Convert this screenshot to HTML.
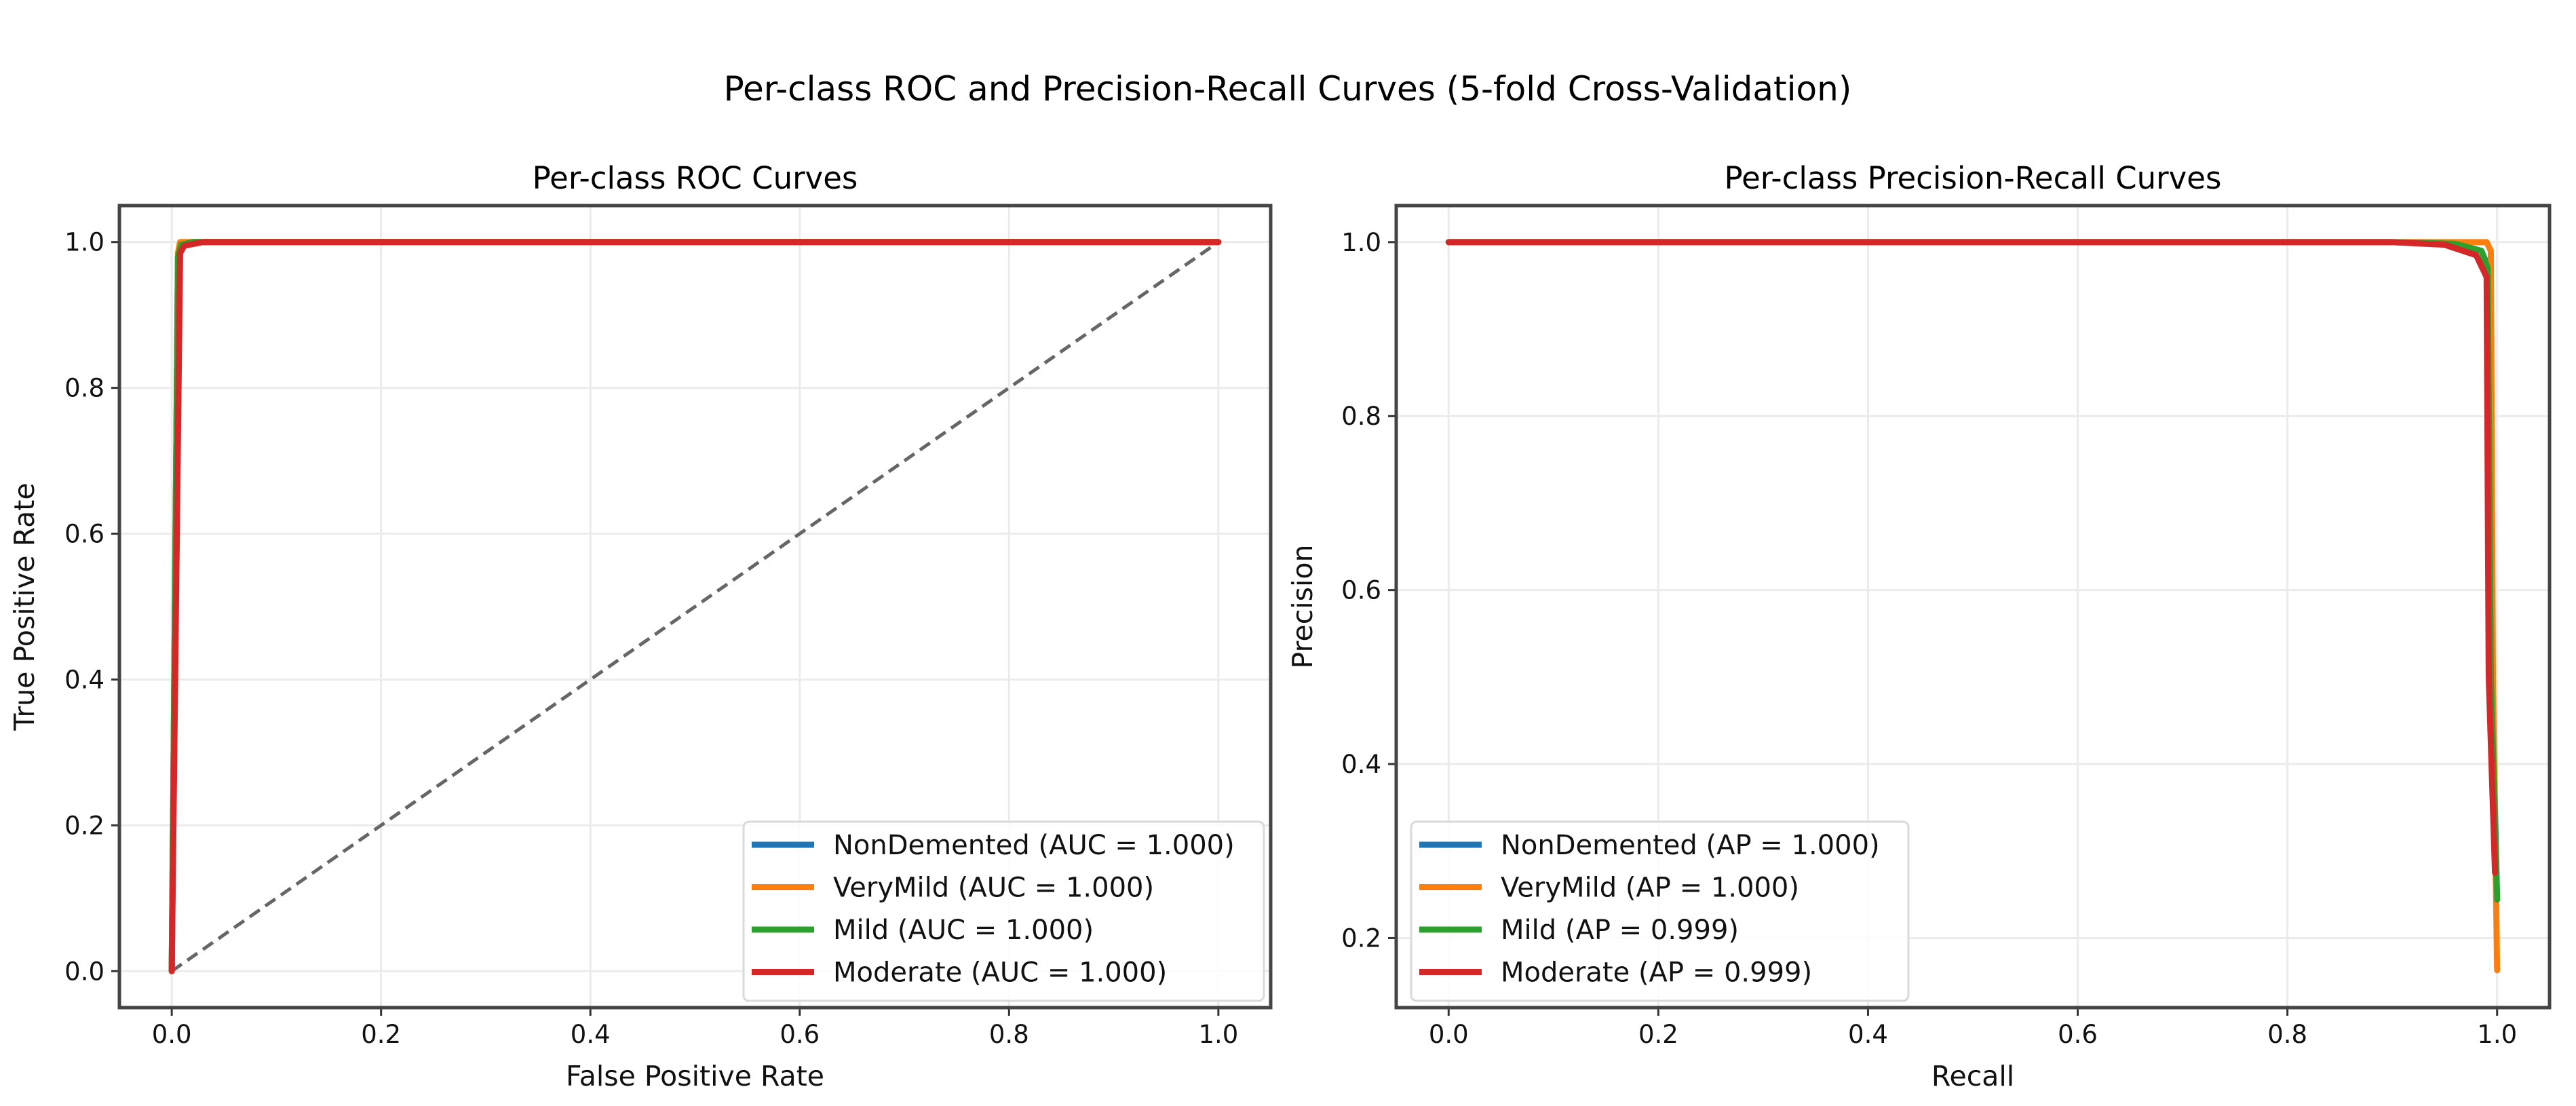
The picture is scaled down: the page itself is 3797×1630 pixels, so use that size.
<!DOCTYPE html>
<html><head><meta charset="utf-8"><style>
html,body{margin:0;padding:0;background:#fff;}
svg{display:block;font-family:"DejaVu Sans","Liberation Sans",sans-serif;}
</style></head><body>
<svg id="fig" width="3797" height="1630" viewBox="0 0 3797 1630" xmlns="http://www.w3.org/2000/svg">
<rect width="3797" height="1630" fill="#fff"/>
<text x="1898" y="148" font-size="50" text-anchor="middle" fill="#000">Per-class ROC and Precision-Recall Curves (5-fold Cross-Validation)</text>
<g id="roc"></g>
<g id="pr"></g>
</svg>
<script>
const classNames = ["NonDemented","VeryMild","Mild","Moderate"];
const colors = ["#1f77b4","#ff7f0e","#2ca02c","#d62728"];
const aucValues = ["1.000","1.000","1.000","1.000"];
const apValues = ["1.000","1.000","0.999","0.999"];
const tickLabels = ["0.0","0.2","0.4","0.6","0.8","1.0"];
const prYTicks = ["0.2","0.4","0.6","0.8","1.0"];
// ROC curves (fpr, tpr)
const rocFpr = [
 [0,0.006,0.009,0.02,1],
 [0,0.006,0.008,0.02,1],
 [0,0.006,0.009,0.02,1],
 [0,0.008,0.012,0.03,1]];
const rocTpr = [
 [0,0.98,0.996,1,1],
 [0,0.985,1,1,1],
 [0,0.98,0.996,1,1],
 [0,0.985,0.995,1,1]];
// PR curves (recall, precision)
const prRecall = [
 [0,0.9,0.96,0.985,0.992,0.995,1.0],
 [0,0.9,0.97,0.99,0.994,0.996,1.0],
 [0,0.9,0.96,0.985,0.991,0.994,1.0],
 [0,0.9,0.95,0.98,0.99,0.992,0.998]];
const prPrecision = [
 [1,1,0.998,0.99,0.97,0.5,0.244],
 [1,1,1,1,0.99,0.5,0.163],
 [1,1,0.998,0.99,0.97,0.5,0.244],
 [1,1,0.997,0.985,0.96,0.5,0.275]];

const NS="http://www.w3.org/2000/svg";
function mk(parent,tag,attrs,text){const e=document.createElementNS(NS,tag);for(const k in attrs)e.setAttribute(k,attrs[k]);if(text!==undefined)e.textContent=text;parent.appendChild(e);return e;}

function panel(g,cfg){
  const L=cfg.left,R=cfg.right,T=303,B=1485;
  const sx=v=>L+(v-cfg.xmin)/(cfg.xmax-cfg.xmin)*(R-L);
  const sy=v=>B-(v-cfg.ymin)/(cfg.ymax-cfg.ymin)*(B-T);
  tickLabels.forEach(t=>{const v=+t;
    const gl=mk(g,'line',{x1:sx(v),x2:sx(v),y1:T,y2:B,stroke:'#ebebeb','stroke-width':3});
    
    
    const tk=mk(g,'line',{x1:sx(v),x2:sx(v),y1:B,y2:B+12,stroke:'#333','stroke-width':3});
    
    
    const tl=mk(g,'text',{x:sx(v),y:B+52,'font-size':37,'text-anchor':'middle',fill:'#111'},t);
    
    
  });
  cfg.yticks.forEach(t=>{const v=+t;
    const gl=mk(g,'line',{x1:L,x2:R,y1:sy(v),y2:sy(v),stroke:'#ebebeb','stroke-width':3});
    
    
    const tk=mk(g,'line',{x1:L-12,x2:L,y1:sy(v),y2:sy(v),stroke:'#333','stroke-width':3});
    
    
    const tl=mk(g,'text',{x:L-22,y:sy(v)+13,'font-size':37,'text-anchor':'end',fill:'#111'},t);
    
    
  });
  if(cfg.diag){
    const d=mk(g,'line',{x1:sx(0),y1:sy(0),x2:sx(1),y2:sy(1),stroke:'#666','stroke-width':5,'stroke-dasharray':'18,10'});
    
    
  }
  cfg.xs.forEach((xa,i)=>{
    const pts=xa.map((x,j)=>sx(x)+','+sy(cfg.ys[i][j])).join(' ');
    const p=mk(g,'polyline',{points:pts,fill:'none',stroke:colors[i],'stroke-width':9,'stroke-linejoin':'round','stroke-linecap':'round'});
    
    
  });
  const fr=mk(g,'rect',{x:L,y:T,width:R-L,height:B-T,fill:'none',stroke:'#444','stroke-width':5});
  
  
  const ti=mk(g,'text',{x:(L+R)/2,y:278,'font-size':45,'text-anchor':'middle',fill:'#000'},cfg.title);
  
  
  const xl=mk(g,'text',{x:(L+R)/2,y:1600,'font-size':41,'text-anchor':'middle',fill:'#111'},cfg.xlabel);
  
  
  const yl=mk(g,'text',{x:cfg.ylx,y:(T+B)/2,'font-size':41,'text-anchor':'middle',fill:'#111',transform:`rotate(-90 ${cfg.ylx} ${(T+B)/2})`},cfg.ylabel);
  
  
  const lg=mk(g,'g',{});
  
  
  mk(lg,'rect',{x:cfg.legX,y:1211,width:cfg.legW,height:264,rx:8,fill:'#fff','fill-opacity':0.85,stroke:'#d9d9d9','stroke-width':3});
  classNames.forEach((n,i)=>{
    const y=1245+i*62.5;
    const e=mk(lg,'g',{});
    
    
    mk(e,'line',{x1:cfg.legX+12,x2:cfg.legX+104,y1:y,y2:y,stroke:colors[i],'stroke-width':9});
    mk(e,'text',{x:cfg.legX+132,y:y+14,'font-size':40,fill:'#111'},`${n} (${cfg.metric} = ${cfg.vals[i]})`);
  });
}
panel(document.getElementById('roc'),{left:176,right:1873,xmin:-0.05,xmax:1.05,ymin:-0.05,ymax:1.05,
  yticks:tickLabels,diag:true,xs:rocFpr,ys:rocTpr,title:'Per-class ROC Curves',xlabel:'False Positive Rate',
  ylabel:'True Positive Rate',ylx:50,legX:1096,legW:767,metric:'AUC',vals:aucValues});
panel(document.getElementById('pr'),{left:2058,right:3758,xmin:-0.05,xmax:1.05,ymin:0.12,ymax:1.042,
  yticks:prYTicks,diag:false,xs:prRecall,ys:prPrecision,title:'Per-class Precision-Recall Curves',xlabel:'Recall',
  ylabel:'Precision',ylx:1934,legX:2080,legW:733,metric:'AP',vals:apValues});
</script>
</body></html>
